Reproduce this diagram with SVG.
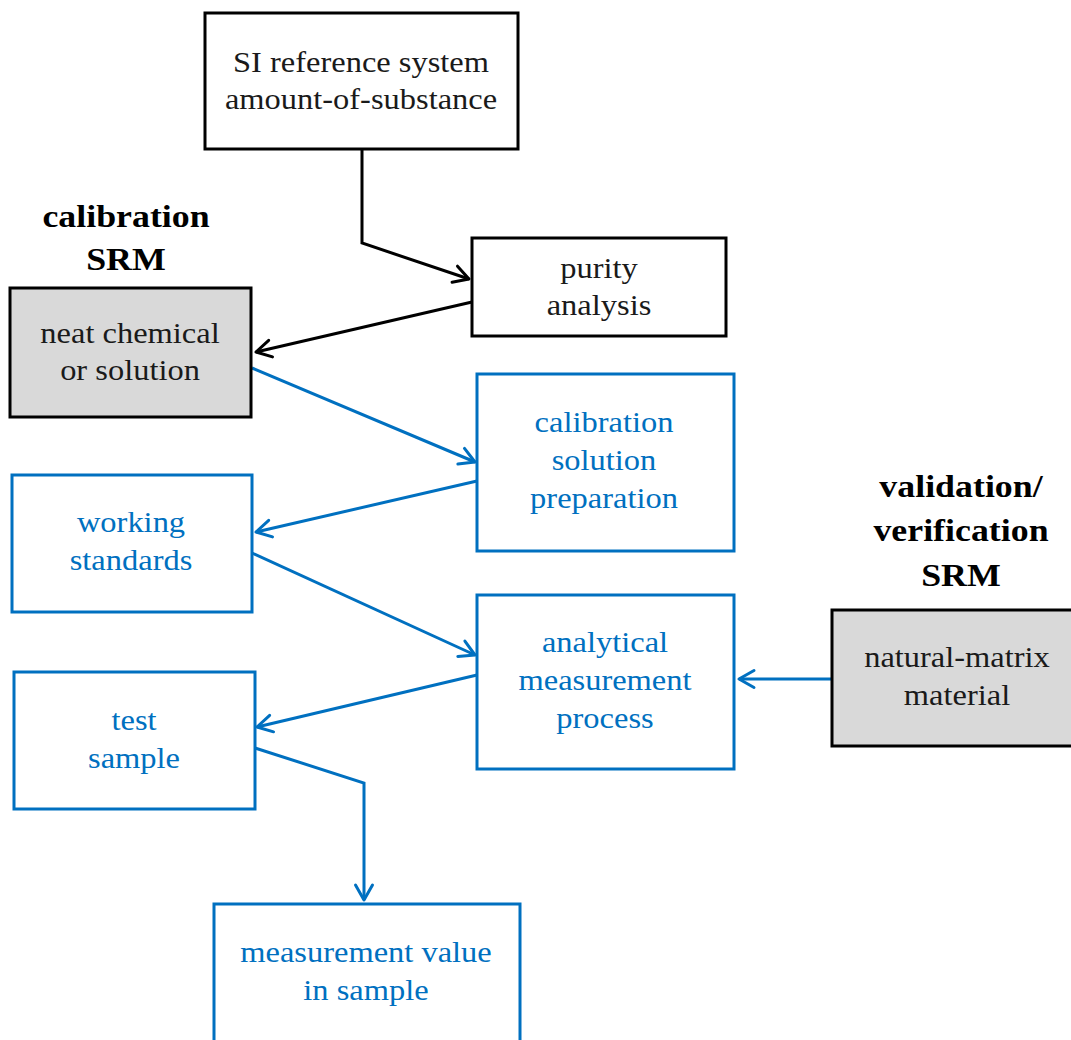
<svg xmlns="http://www.w3.org/2000/svg" width="1071" height="1040" viewBox="0 0 1071 1040">
  <style>
    .box { fill: #ffffff; stroke-width: 3; }
    .k { stroke: #000000; }
    .b { stroke: #0070c0; }
    .g { fill: #d9d9d9; }
    .t { font-family: "Liberation Serif", "Times New Roman", serif; font-size: 29px; text-anchor: middle; }
    .tk { fill: #1a1a1a; }
    .tb { fill: #0070c0; }
    .hd { font-family: "Liberation Serif", "Times New Roman", serif; font-size: 32px; font-weight: bold; text-anchor: middle; fill: #000000; }
    .c { fill: none; stroke-width: 3; stroke-linejoin: miter; }
    .ck { stroke: #000000; marker-end: url(#ak); }
    .cb { stroke: #0070c0; marker-end: url(#ab); }
  </style>
  <defs>
    <marker id="ak" markerUnits="userSpaceOnUse" viewBox="0 0 24 24" markerWidth="24" markerHeight="24" refX="20" refY="12" orient="auto">
      <path d="M5,3.5 L20,12 L5,20.5" fill="none" stroke="#000000" stroke-width="3" stroke-linecap="round" stroke-linejoin="round"/>
    </marker>
    <marker id="ab" markerUnits="userSpaceOnUse" viewBox="0 0 24 24" markerWidth="24" markerHeight="24" refX="20" refY="12" orient="auto">
      <path d="M5,3.5 L20,12 L5,20.5" fill="none" stroke="#0070c0" stroke-width="3" stroke-linecap="round" stroke-linejoin="round"/>
    </marker>
  </defs>
  <rect width="1071" height="1040" fill="#ffffff"/>

  <g id="label-calibration-srm">
    <g transform="translate(126,0) scale(1.12,1)">
      <text class="hd" x="0" y="227">calibration</text>
      <text class="hd" x="0" y="270">SRM</text>
    </g>
  </g>
  <g id="label-validation-srm">
    <g transform="translate(961,0) scale(1.12,1)">
      <text class="hd" x="0" y="497">validation/</text>
      <text class="hd" x="0" y="541">verification</text>
      <text class="hd" x="0" y="586">SRM</text>
    </g>
  </g>

  <g id="connectors">
    <polyline class="c ck" points="362,149 362,243 469,279"/>
    <line class="c ck" x1="472" y1="302" x2="256" y2="352"/>
    <line class="c cb" x1="252" y1="368" x2="475" y2="462"/>
    <line class="c cb" x1="477" y1="481" x2="256" y2="532"/>
    <line class="c cb" x1="252" y1="553" x2="475" y2="655"/>
    <line class="c cb" x1="477" y1="675" x2="257" y2="727"/>
    <polyline class="c cb" points="255,748 364,783 364,900"/>
    <line class="c cb" x1="832" y1="679" x2="739" y2="679"/>
  </g>

  <g id="node-si">
    <rect class="box k" x="205" y="13" width="313" height="136"/>
    <g transform="translate(361,0) scale(1.12,1)">
      <text class="t tk" x="0" y="72">SI reference system</text>
      <text class="t tk" x="0" y="109">amount-of-substance</text>
    </g>
  </g>
  <g id="node-purity">
    <rect class="box k" x="472" y="238" width="254" height="98"/>
    <g transform="translate(599,0) scale(1.12,1)">
      <text class="t tk" x="0" y="278">purity</text>
      <text class="t tk" x="0" y="315">analysis</text>
    </g>
  </g>
  <g id="node-neat">
    <rect class="box k g" x="10" y="288" width="241" height="129"/>
    <g transform="translate(130,0) scale(1.12,1)">
      <text class="t tk" x="0" y="343">neat chemical</text>
      <text class="t tk" x="0" y="380">or solution</text>
    </g>
  </g>
  <g id="node-calsol">
    <rect class="box b" x="477" y="374" width="257" height="177"/>
    <g transform="translate(604,0) scale(1.12,1)">
      <text class="t tb" x="0" y="432">calibration</text>
      <text class="t tb" x="0" y="470">solution</text>
      <text class="t tb" x="0" y="508">preparation</text>
    </g>
  </g>
  <g id="node-working">
    <rect class="box b" x="12" y="475" width="240" height="137"/>
    <g transform="translate(131,0) scale(1.12,1)">
      <text class="t tb" x="0" y="532">working</text>
      <text class="t tb" x="0" y="570">standards</text>
    </g>
  </g>
  <g id="node-analytical">
    <rect class="box b" x="477" y="595" width="257" height="174"/>
    <g transform="translate(605,0) scale(1.12,1)">
      <text class="t tb" x="0" y="652">analytical</text>
      <text class="t tb" x="0" y="690">measurement</text>
      <text class="t tb" x="0" y="728">process</text>
    </g>
  </g>
  <g id="node-test">
    <rect class="box b" x="14" y="672" width="241" height="137"/>
    <g transform="translate(134,0) scale(1.12,1)">
      <text class="t tb" x="0" y="730">test</text>
      <text class="t tb" x="0" y="768">sample</text>
    </g>
  </g>
  <g id="node-natural">
    <rect class="box k g" x="832" y="610" width="245" height="136"/>
    <g transform="translate(957,0) scale(1.12,1)">
      <text class="t tk" x="0" y="667">natural-matrix</text>
      <text class="t tk" x="0" y="705">material</text>
    </g>
  </g>
  <g id="node-measurement">
    <rect class="box b" x="214" y="904" width="306" height="145"/>
    <g transform="translate(366,0) scale(1.12,1)">
      <text class="t tb" x="0" y="962">measurement value</text>
      <text class="t tb" x="0" y="1000">in sample</text>
    </g>
  </g>
</svg>
